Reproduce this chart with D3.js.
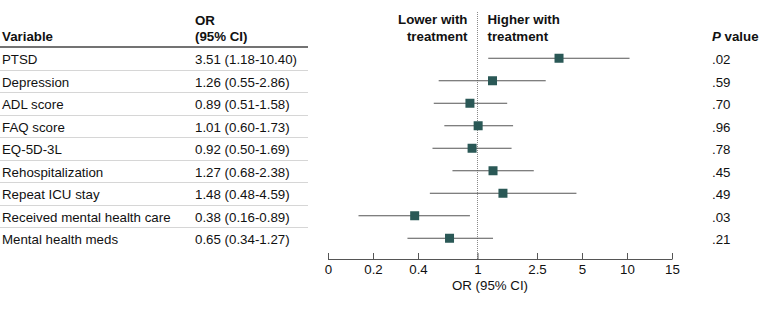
<!DOCTYPE html>
<html>
<head>
<meta charset="utf-8">
<script src="https://cdn.jsdelivr.net/npm/d3@7/dist/d3.min.js"></script>
<style>
  body { margin: 0; background: #fff; }
  svg text { font-family: "Liberation Sans", Arial, sans-serif; fill: #111; }
</style>
</head>
<body>
<svg id="chart" width="780" height="310"></svg>
<script>
const variables = ["PTSD", "Depression", "ADL score", "FAQ score", "EQ-5D-3L",
  "Rehospitalization", "Repeat ICU stay", "Received mental health care", "Mental health meds"];
const orValues = [3.51, 1.26, 0.89, 1.01, 0.92, 1.27, 1.48, 0.38, 0.65];
const ciLow = [1.18, 0.55, 0.51, 0.60, 0.50, 0.68, 0.48, 0.16, 0.34];
const ciHigh = [10.40, 2.86, 1.58, 1.73, 1.69, 2.38, 4.59, 0.89, 1.27];
const pValues = [".02", ".59", ".70", ".96", ".78", ".45", ".49", ".03", ".21"];
const tickValues = [0.1, 0.2, 0.4, 1, 2.5, 5, 10, 20];
const tickLabels = ["0", "0.2", "0.4", "1", "2.5", "5", "10", "15"];

const svg = d3.select("#chart");
const fs = 13.3;

const x = d3.scaleLog().domain([0.1, 20]).range([328, 672]);
const y = d3.scaleBand().domain(variables).range([47, 249.5]);
const cy = d => y(d) + y.bandwidth() / 2;

// table header
svg.append("text").attr("x", 2).attr("y", 40.5).attr("font-size", fs).attr("font-weight", "bold").text("Variable");
svg.append("text").attr("x", 195).attr("y", 25).attr("font-size", fs).attr("font-weight", "bold").text("OR");
svg.append("text").attr("x", 195).attr("y", 40.5).attr("font-size", fs).attr("font-weight", "bold").text("(95% CI)");
svg.append("line").attr("x1", 0).attr("x2", 308).attr("y1", 47).attr("y2", 47)
  .attr("stroke", "#444").attr("stroke-width", 1.5);

// row separators
variables.slice(0, -1).forEach(v => {
  const yy = Math.round(y(v) + y.bandwidth()) + 0.5;
  svg.append("line").attr("x1", 0).attr("x2", 308).attr("y1", yy).attr("y2", yy)
    .attr("stroke", "#d6d6d6").attr("stroke-width", 1);
});

// table rows
variables.forEach((v, i) => {
  svg.append("text").attr("x", 2).attr("y", cy(v) + 6).attr("font-size", fs).text(v);
  svg.append("text").attr("x", 195).attr("y", cy(v) + 6).attr("font-size", fs)
    .text(`${orValues[i].toFixed(2)} (${ciLow[i].toFixed(2)}-${ciHigh[i].toFixed(2)})`);
  svg.append("text").attr("x", 712).attr("y", cy(v) + 6).attr("font-size", fs).text(pValues[i]);
});

// P value header
const ph = svg.append("text").attr("x", 712).attr("y", 40.5).attr("font-size", fs).attr("font-weight", "bold");
ph.append("tspan").attr("font-style", "italic").text("P");
ph.append("tspan").text(" value");

// direction labels
const x1 = x(1);
svg.append("text").attr("x", x1 - 10).attr("y", 24).attr("font-size", fs).attr("font-weight", "bold").attr("text-anchor", "end").text("Lower with");
svg.append("text").attr("x", x1 - 10).attr("y", 40.5).attr("font-size", fs).attr("font-weight", "bold").attr("text-anchor", "end").text("treatment");
svg.append("text").attr("x", x1 + 10).attr("y", 24).attr("font-size", fs).attr("font-weight", "bold").text("Higher with");
svg.append("text").attr("x", x1 + 10).attr("y", 40.5).attr("font-size", fs).attr("font-weight", "bold").text("treatment");

// reference line
svg.append("line").attr("x1", x1).attr("x2", x1).attr("y1", 12).attr("y2", 259)
  .attr("stroke", "#888").attr("stroke-width", 1).attr("stroke-dasharray", "1,1");

// CI lines
svg.append("g").selectAll("line").data(variables).join("line")
  .attr("x1", (d, i) => x(ciLow[i])).attr("x2", (d, i) => x(ciHigh[i]))
  .attr("y1", d => cy(d)).attr("y2", d => cy(d))
  .attr("stroke", "#555").attr("stroke-width", 1);

// squares
const sq = 9;
svg.append("g").selectAll("rect").data(variables).join("rect")
  .attr("x", (d, i) => x(orValues[i]) - sq / 2).attr("y", d => cy(d) - sq / 2)
  .attr("width", sq).attr("height", sq).attr("fill", "#2a5856");

// axis
const axis = d3.axisBottom(x).tickValues(tickValues).tickFormat((d, i) => tickLabels[i]).tickSize(0).tickPadding(0);
const ag = svg.append("g").attr("transform", "translate(0,259)").call(axis);
ag.select(".domain").remove();
ag.append("line").attr("x1", x(0.1)).attr("x2", x(20)).attr("y1", 0.5).attr("y2", 0.5).attr("stroke", "#555");
ag.selectAll(".tick line").remove();
ag.selectAll(".tick").append("line").attr("y1", 0.5).attr("y2", -6).attr("stroke", "#555");
ag.selectAll(".tick text").attr("y", 15).attr("dy", 0).attr("font-size", fs)
  .attr("font-family", "Liberation Sans, Arial, sans-serif").attr("fill", "#111");

svg.append("text").attr("x", 490).attr("y", 289.5).attr("font-size", fs).attr("text-anchor", "middle").text("OR (95% CI)");
</script>
</body>
</html>
